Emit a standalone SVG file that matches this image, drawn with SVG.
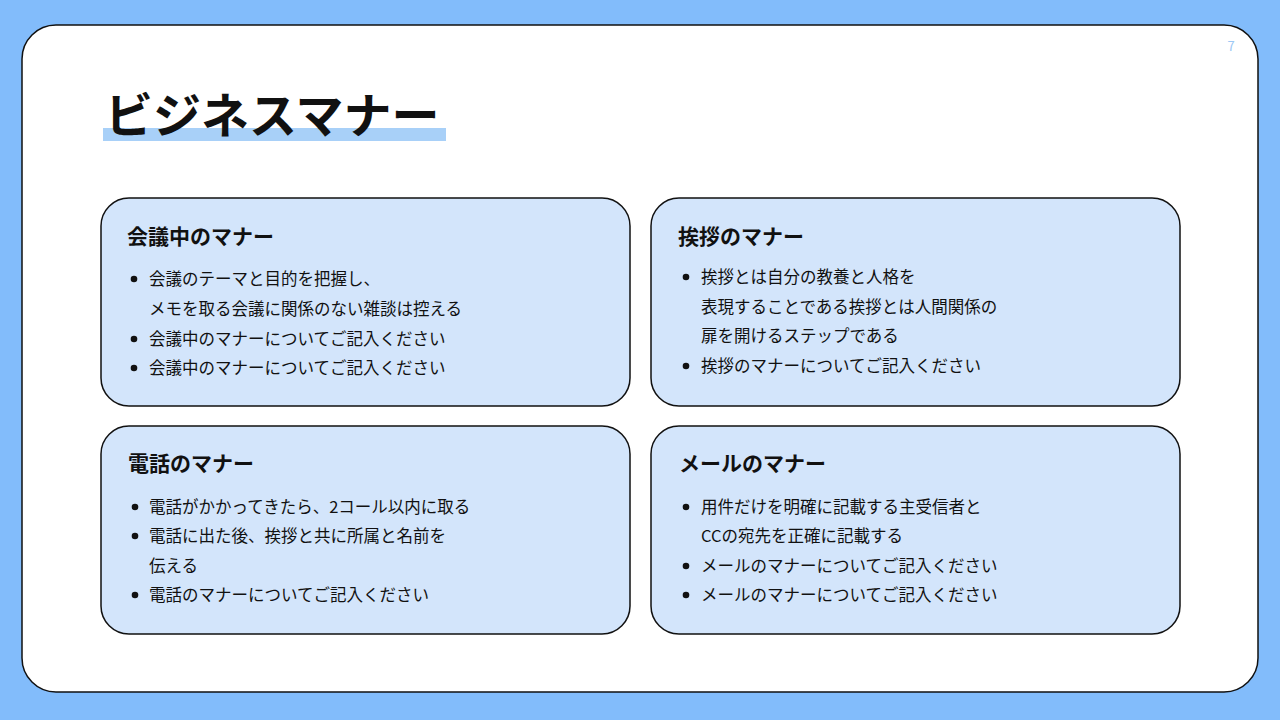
<svg xmlns="http://www.w3.org/2000/svg" width="1280" height="720" viewBox="0 0 1280 720">
<style>
text{font-family:"Noto Sans CJK JP","Noto Sans",sans-serif;fill:#111}
.card{fill:#d3e5fb;stroke:#111;stroke-width:1.5}
.h{font-size:21px;font-weight:700}
.b{font-size:16.5px}
.dot{fill:#111}
</style>
<rect width="1280" height="720" fill="#82bcfb"/>
<rect x="22" y="25" width="1236" height="667" rx="34" fill="#fff" stroke="#111" stroke-width="1.5"/>
<text x="1231" y="51" font-size="13" style="fill:#9cc8f5" text-anchor="middle">7</text>
<rect x="103" y="128" width="343" height="13" fill="#a8d0f8"/>
<text x="105" y="133" font-size="48" font-weight="700">ビジネスマナー</text>
<g id="n1">
<rect class="card" x="101" y="198" width="529" height="208" rx="28"/>
<text class="h" x="127" y="244">会議中のマナー</text>
<circle class="dot" cx="134" cy="279" r="3.3"/><text class="b" x="149" y="285">会議のテーマと目的を把握し、</text>
<text class="b" x="149" y="315">メモを取る会議に関係のない雑談は控える</text>
<circle class="dot" cx="134" cy="339" r="3.3"/><text class="b" x="149" y="345">会議中のマナーについてご記入ください</text>
<circle class="dot" cx="134" cy="368" r="3.3"/><text class="b" x="149" y="374">会議中のマナーについてご記入ください</text>
</g>
<g id="n2">
<rect class="card" x="651" y="198" width="529" height="208" rx="28"/>
<text class="h" x="678" y="244">挨拶のマナー</text>
<circle class="dot" cx="686" cy="277" r="3.3"/><text class="b" x="701" y="283">挨拶とは自分の教養と人格を</text>
<text class="b" x="701" y="313">表現することである挨拶とは人間関係の</text>
<text class="b" x="701" y="342">扉を開けるステップである</text>
<circle class="dot" cx="686" cy="366" r="3.3"/><text class="b" x="701" y="372">挨拶のマナーについてご記入ください</text>
</g>
<g id="n3">
<rect class="card" x="101" y="426" width="529" height="208" rx="28"/>
<text class="h" x="128" y="471">電話のマナー</text>
<circle class="dot" cx="135" cy="507" r="3.3"/><text class="b" x="149" y="513">電話がかかってきたら、2コール以内に取る</text>
<circle class="dot" cx="135" cy="536" r="3.3"/><text class="b" x="149" y="542">電話に出た後、挨拶と共に所属と名前を</text>
<text class="b" x="149" y="572">伝える</text>
<circle class="dot" cx="135" cy="595" r="3.3"/><text class="b" x="149" y="601">電話のマナーについてご記入ください</text>
</g>
<g id="n4">
<rect class="card" x="651" y="426" width="529" height="208" rx="28"/>
<text class="h" x="679" y="471">メールのマナー</text>
<circle class="dot" cx="686" cy="507" r="3.3"/><text class="b" x="701" y="513">用件だけを明確に記載する主受信者と</text>
<text class="b" x="701" y="542">CCの宛先を正確に記載する</text>
<circle class="dot" cx="686" cy="566" r="3.3"/><text class="b" x="701" y="572">メールのマナーについてご記入ください</text>
<circle class="dot" cx="686" cy="595" r="3.3"/><text class="b" x="701" y="601">メールのマナーについてご記入ください</text>
</g>
<g id="connectors"/>
</svg>
